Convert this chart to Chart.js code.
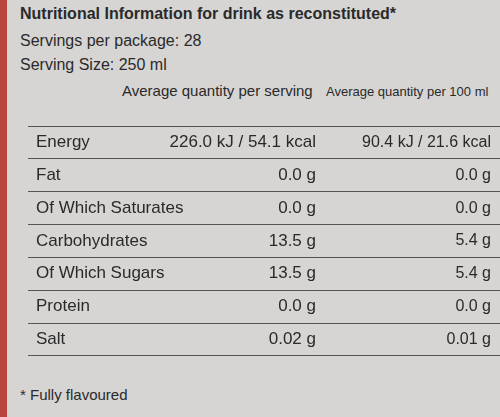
<!DOCTYPE html><html><head><meta charset="utf-8">
<script src="https://cdn.jsdelivr.net/npm/chart.js@4"></script>
<style>
body{margin:0;width:500px;height:417px;background:#d6d5d3;font-family:"Liberation Sans",Arial,sans-serif;color:#2a2a2a;position:relative;overflow:hidden}
.t{position:absolute;white-space:nowrap}
#edge{position:absolute;left:0;top:0;width:7px;height:417px;background:#b8463f}
</style></head><body>
<div id="edge"></div>
<div class="t" style="left:20px;top:5px;font-size:16px;font-weight:bold">Nutritional Information for drink as reconstituted*</div>
<div class="t" style="left:20px;top:32px;font-size:16px">Servings per package: 28</div>
<div class="t" style="left:20px;top:56px;font-size:16px">Serving Size: 250 ml</div>
<div class="t" style="left:122px;top:82px;font-size:15px">Average quantity per serving</div>
<div class="t" style="left:326px;top:84px;font-size:13px">Average quantity per 100 ml</div>
<div class="t" style="left:20px;top:386px;font-size:15px">* Fully flavoured</div>
<div style="position:absolute;left:0;top:108px;width:500px;height:266px"><canvas id="c"></canvas></div>
<script>
const nutrients=["Energy","Fat","Of Which Saturates","Carbohydrates","Of Which Sugars","Protein","Salt"];
const perServing=["226.0 kJ / 54.1 kcal","0.0 g","0.0 g","13.5 g","13.5 g","0.0 g","0.02 g"];
const per100ml=["90.4 kJ / 21.6 kcal","0.0 g","0.0 g","5.4 g","5.4 g","0.0 g","0.01 g"];
const textPlugin={id:'txt',afterDraw(ch){const ctx=ch.ctx,y=ch.scales.y;ctx.save();ctx.fillStyle='#2a2a2a';ctx.textBaseline='middle';ctx.textAlign='right';
nutrients.forEach((n,i)=>{const py=y.getPixelForValue(i);ctx.font='17px "Liberation Sans", Arial';ctx.fillText(perServing[i],316,py);ctx.font='16px "Liberation Sans", Arial';ctx.fillText(per100ml[i],491,py);});ctx.restore();}};
new Chart(document.getElementById('c'),{type:'bar',data:{labels:nutrients,datasets:[{data:nutrients.map(()=>0)}]},
plugins:[textPlugin],
options:{indexAxis:'y',responsive:true,maintainAspectRatio:false,animation:false,layout:{padding:{left:12,right:0,top:0,bottom:0}},
plugins:{legend:{display:false},tooltip:{enabled:false}},
scales:{x:{display:false,min:0,max:1},
y:{offset:true,grid:{offset:true,color:'#555',lineWidth:1,drawTicks:false},border:{display:false},
ticks:{color:'#2a2a2a',font:{size:17,family:'"Liberation Sans", Arial'},padding:8,mirror:true,labelOffset:0}}}}});
</script></body></html>
